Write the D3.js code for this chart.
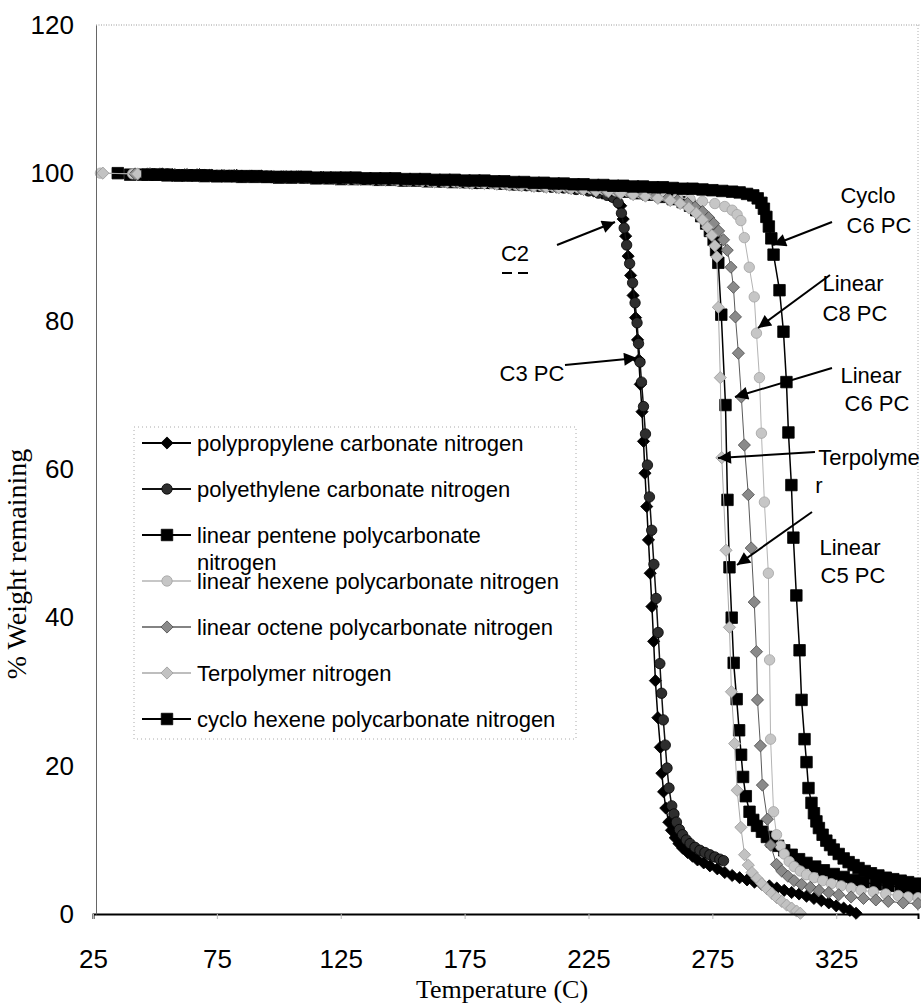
<!DOCTYPE html>
<html lang="en">
<head>
<meta charset="UTF-8">
<title>TGA weight loss</title>
<style>
  body{ margin:0; background:#fff; }
  svg{ display:block; font-family:"Liberation Sans", Arial, sans-serif; }
</style>
</head>
<body>
<svg id="chart" width="924" height="1003"></svg>

<script src="https://cdn.jsdelivr.net/npm/d3@7"></script>
<script>

// [temperature C, % weight remaining]
const ppcData = [[48,99.9],[53,99.9],[58,99.8],[63,99.8],[68,99.8],[73,99.7],[78,99.7],[83,99.7],[88,99.6],[93,99.6],[98,99.5],[103,99.5],[108,99.5],[113,99.4],[118,99.4],[123,99.3],[128,99.3],[133,99.2],[138,99.2],[143,99.1],[148,99.1],[153,99.0],[158,99.0],[163,98.9],[168,98.9],[173,98.8],[178,98.7],[183,98.7],[188,98.6],[193,98.5],[198,98.4],[203,98.3],[208,98.2],[213,98.1],[218,98.0],[223,97.8],[227,97.6],[230.5,97.3],[233.5,97.0],[236,96.6],[238,95.6],[239,93.8],[240,91.5],[241,88.8],[242,86.2],[243,83.5],[244,80.5],[244.8,77.5],[245.3,74.8],[245.9,71.5],[246.6,67.8],[247.2,63.8],[247.8,59.5],[248.5,55],[249.2,50.5],[249.9,46],[250.6,41.5],[251.3,36.8],[252,31.5],[253,26.5],[254,22.5],[254.6,19],[255.3,16.5],[256.2,14.3],[257.4,12.4],[258.5,11.3],[260,10.3],[261.5,9.5],[263,8.9],[265,8.3],[267,7.8],[269,7.3],[271.5,6.9],[274,6.5],[277,6.1],[280,5.6],[283,5.2],[286,4.9],[289,4.6],[292,4.3],[295,4.0],[298,3.8],[301,3.5],[304,3.2],[307,2.9],[310,2.7],[313,2.4],[316,2.1],[319,1.8],[322,1.5],[325,1.1],[328,0.8],[330.5,0.5],[333,0.1]];

const pecData = [[50,99.9],[55,99.9],[60,99.8],[65,99.8],[70,99.8],[75,99.7],[80,99.7],[85,99.6],[90,99.6],[95,99.6],[100,99.5],[105,99.5],[110,99.4],[115,99.4],[120,99.3],[125,99.3],[130,99.2],[135,99.2],[140,99.1],[145,99.1],[150,99.0],[155,99.0],[160,98.9],[165,98.8],[170,98.8],[175,98.7],[180,98.6],[185,98.6],[190,98.5],[195,98.4],[200,98.3],[205,98.2],[210,98.1],[215,98.0],[220,97.8],[225,97.6],[229,97.3],[232.5,97.0],[235,96.7],[237,96.0],[238.3,94.6],[239.4,92.6],[240.4,90.3],[241.6,87.8],[242.8,85.2],[243.8,82.5],[244.6,79.8],[245.2,77.0],[245.8,74.5],[246.4,71.8],[247.2,68.5],[248,64.8],[248.8,60.6],[249.6,56.3],[250.5,51.8],[251.4,47.2],[252.3,42.6],[253.1,38.0],[253.8,33.8],[254.5,29.8],[255.2,26.2],[256,22.8],[256.7,19.7],[257.5,17.0],[258.6,14.6],[259.5,13.5],[260.5,12.4],[261.7,11.4],[263,10.7],[264.5,10.0],[266,9.5],[268,9.0],[270,8.6],[272,8.3],[274,8.0],[276,7.7],[278,7.4],[279.5,7.2]];

const pentData = [[35,100],[40,99.8],[45,99.8],[50,99.8],[55,99.7],[60,99.7],[65,99.7],[70,99.6],[75,99.6],[80,99.6],[85,99.5],[90,99.5],[95,99.5],[100,99.4],[105,99.4],[110,99.4],[115,99.3],[120,99.3],[125,99.2],[130,99.2],[135,99.2],[140,99.1],[145,99.1],[150,99.0],[155,99.0],[160,98.9],[165,98.9],[170,98.8],[175,98.8],[180,98.7],[185,98.7],[190,98.6],[195,98.5],[200,98.5],[205,98.4],[210,98.3],[215,98.2],[220,98.1],[225,98.0],[230,97.9],[235,97.7],[240,97.5],[245,97.3],[250,97.1],[255,96.8],[259,96.5],[263,96.1],[266,95.6],[268.5,95.0],[270.5,94.2],[272.5,93.2],[274,92.2],[275.5,91.0],[276.5,89.6],[277.4,87.9],[278.6,80.9],[280.3,68.7],[281.1,55.9],[281.9,46.8],[282.8,40.0],[283.6,33.9],[284.8,29.0],[285.8,24.8],[286.6,21.5],[287.4,18.5],[288.5,15.9],[290,13.8],[291.5,12.7],[293,11.9],[295,11.1],[297,10.4],[299,9.8],[301.5,9.2],[304,8.6],[307,8.0],[310,7.4],[313,6.9],[316.5,6.4],[320,5.9],[324,5.4],[328,5.0],[332,4.6],[336,4.3],[341,4.0],[346,3.8],[351,3.6],[355,3.4],[358,3.3]];

const hexData = [[28,100],[41,99.9],[46,99.9],[51,99.9],[56,99.8],[61,99.8],[66,99.8],[71,99.7],[76,99.7],[81,99.7],[86,99.6],[91,99.6],[96,99.5],[101,99.5],[106,99.5],[111,99.4],[116,99.4],[121,99.3],[126,99.3],[131,99.2],[136,99.2],[141,99.1],[146,99.1],[151,99.0],[156,99.0],[161,98.9],[166,98.9],[171,98.8],[176,98.7],[181,98.7],[186,98.6],[191,98.5],[196,98.4],[201,98.4],[206,98.3],[211,98.2],[216,98.1],[221,98.0],[226,97.9],[231,97.8],[236,97.6],[241,97.5],[246,97.3],[251,97.1],[256,96.9],[261,96.7],[266,96.5],[271,96.2],[276,95.9],[280,95.5],[283,95.0],[285,94.4],[286.5,93.6],[287.9,91.3],[289.9,87.3],[291.9,83.3],[292.8,78.4],[294,72.4],[294.8,64.9],[296,55.6],[297.6,46.0],[298.1,34.3],[298.5,23.6],[299.7,13.8],[300.9,10.7],[302.5,9.2],[304,8.1],[306,7.1],[308,6.4],[310.5,5.8],[313,5.3],[316,4.9],[319.5,4.5],[323,4.1],[327,3.8],[331,3.5],[335,3.2],[340,3.0],[345,2.7],[350,2.5],[354,2.3],[358,2.2]];

const octData = [[42,99.9],[47,99.9],[52,99.9],[57,99.8],[62,99.8],[67,99.8],[72,99.7],[77,99.7],[82,99.7],[87,99.6],[92,99.6],[97,99.5],[102,99.5],[107,99.5],[112,99.4],[117,99.4],[122,99.3],[127,99.3],[132,99.2],[137,99.2],[142,99.1],[147,99.1],[152,99.0],[157,99.0],[162,98.9],[167,98.9],[172,98.8],[177,98.7],[182,98.7],[187,98.6],[192,98.5],[197,98.4],[202,98.3],[207,98.2],[212,98.1],[217,98.0],[222,97.9],[227,97.8],[232,97.6],[237,97.5],[242,97.3],[247,97.1],[252,96.9],[257,96.6],[261,96.3],[265,95.9],[268,95.4],[271,94.8],[273.5,94.0],[275.5,93.2],[277.5,92.2],[279.5,91.0],[281,89.6],[282.5,87.3],[283.5,84.6],[284.3,80.6],[285.5,75.7],[286.7,69.8],[287.9,63.3],[289.5,56.6],[290.7,49.4],[291.9,42.1],[292.8,35.4],[293.2,28.9],[294.4,22.7],[295.2,17.4],[297.2,12.8],[298.5,9.3],[300.9,6.7],[303,5.8],[305.5,5.1],[308,4.5],[311,4.0],[314.5,3.6],[318,3.2],[322,2.9],[326,2.6],[331,2.3],[336,2.1],[341,1.9],[346,1.7],[352,1.5],[358,1.4]];

const terpData = [[29,100],[43,99.9],[48,99.9],[53,99.8],[58,99.8],[63,99.8],[68,99.7],[73,99.7],[78,99.7],[83,99.6],[88,99.6],[93,99.5],[98,99.5],[103,99.5],[108,99.4],[113,99.4],[118,99.3],[123,99.3],[128,99.2],[133,99.2],[138,99.1],[143,99.1],[148,99.0],[153,99.0],[158,98.9],[163,98.8],[168,98.8],[173,98.7],[178,98.6],[183,98.6],[188,98.5],[193,98.4],[198,98.3],[203,98.2],[208,98.1],[213,98.0],[218,97.9],[223,97.8],[228,97.6],[233,97.5],[238,97.3],[243,97.1],[248,96.9],[253,96.6],[258,96.3],[262,95.9],[265.5,95.3],[268.5,94.6],[271,93.7],[273,92.7],[274.8,91.6],[276,90.2],[276.8,88.7],[277.4,81.9],[278.2,72.4],[278.8,61.6],[280.5,49.1],[281.9,38.7],[282.7,30.0],[284,23.0],[285,16.7],[286.5,11.7],[288,8.0],[289.5,6.6],[291,5.6],[293,4.8],[295,4.1],[297,3.4],[299,2.8],[301,2.2],[303,1.7],[305,1.2],[307,0.8],[309,0.4],[310.5,0.1]];

const cycloData = [[47,99.8],[51,99.8],[55,99.8],[59,99.7],[63,99.7],[67,99.7],[71,99.7],[75,99.6],[79,99.6],[83,99.6],[87,99.6],[91,99.6],[95,99.5],[99,99.5],[103,99.5],[107,99.5],[111,99.5],[115,99.4],[119,99.4],[123,99.4],[127,99.4],[131,99.4],[135,99.3],[139,99.3],[143,99.3],[147,99.3],[151,99.2],[155,99.2],[159,99.2],[163,99.1],[167,99.1],[171,99.1],[175,99.0],[179,99.0],[183,99.0],[187,98.9],[191,98.9],[195,98.8],[199,98.8],[203,98.7],[207,98.7],[211,98.6],[215,98.6],[219,98.5],[223,98.5],[227,98.4],[231,98.4],[235,98.3],[239,98.3],[243,98.2],[247,98.2],[251,98.1],[255,98.1],[259,98.0],[263,97.9],[267,97.9],[271,97.8],[275,97.7],[279,97.6],[283,97.5],[286,97.4],[289,97.2],[291.5,97.0],[293.3,96.6],[294.8,96.0],[295.8,95.2],[296.8,94.1],[297.8,92.8],[298.8,91.2],[299.7,89.0],[302.1,84.2],[303.7,78.6],[304.9,71.8],[305.7,65.0],[306.9,57.9],[307.7,50.8],[308.9,43.0],[310.2,35.6],[311,28.9],[312.2,23.6],[313,20.5],[313.8,17.0],[315,15.0],[316,13.6],[317,12.5],[318,11.6],[319.5,10.7],[321,9.9],[322.5,9.3],[324,8.7],[326,8.1],[328,7.5],[330,7.0],[332,6.6],[334,6.2],[336.5,5.8],[339,5.5],[342,5.2],[345,4.9],[348,4.7],[351,4.5],[354,4.3],[357,4.1]];

const seriesNames = [
    'polypropylene carbonate nitrogen',
    'polyethylene carbonate nitrogen',
    'linear pentene polycarbonate nitrogen',
    'linear hexene polycarbonate nitrogen',
    'linear octene polycarbonate nitrogen',
    'Terpolymer nitrogen',
    'cyclo hexene polycarbonate nitrogen'
];
const seriesData = [ppcData, pecData, pentData, hexData, octData, terpData, cycloData];

const xTicks = [25, 75, 125, 175, 225, 275, 325];
const yTicks = [0, 20, 40, 60, 80, 100, 120];

// marker look per series (diamonds are rotated squares)
const styles = [
    {shape:'diamond', fill:'#000',    stroke:'#000',    line:'#000',    lw:1.5},
    {shape:'circle',  fill:'#2e2e2e', stroke:'#000',    line:'#111',    lw:1.5},
    {shape:'square',  fill:'#000',    stroke:'#000',    line:'#000',    lw:1.5},
    {shape:'circle',  fill:'#c6c6c6', stroke:'#a2a2a2', line:'#b4b4b4', lw:1},
    {shape:'diamond', fill:'#8a8a8a', stroke:'#4e4e4e', line:'#5a5a5a', lw:1},
    {shape:'diamond', fill:'#c2c2c2', stroke:'#9c9c9c', line:'#a8a8a8', lw:1},
    {shape:'square',  fill:'#000',    stroke:'#000',    line:'#000',    lw:1.5}
];

const svg = d3.select('#chart');
const x = d3.scaleLinear().domain([25, 358]).range([93, 918]);
const y = d3.scaleLinear().domain([0, 120]).range([914, 25]);

const symbolPath = shape => {
    if(shape === 'circle') return d3.symbol().type(d3.symbolCircle).size(85)();
    return d3.symbol().type(d3.symbolSquare).size(shape === 'square' ? 132 : 74)();
};
const symbolTransform = (shape, px, py) =>
    'translate(' + px + ',' + py + ')' + (shape === 'diamond' ? ' rotate(45)' : '');

// plot frame: dotted top / right, axes left / bottom
svg.append('line').attr('x1', 96).attr('x2', 920).attr('y1', 25).attr('y2', 25)
    .attr('stroke', '#9a9a9a').attr('stroke-width', 1).attr('stroke-dasharray', '1,1.5');
svg.append('line').attr('x1', 918).attr('x2', 918).attr('y1', 25).attr('y2', 914)
    .attr('stroke', '#b0b0b0').attr('stroke-width', 1).attr('stroke-dasharray', '1,2');

// clip for the series
svg.append('defs').append('clipPath').attr('id', 'plot-clip')
    .append('rect').attr('x', 93).attr('y', 20).attr('width', 828).attr('height', 910);

// arrow head
svg.select('defs').append('marker')
    .attr('id', 'arrow')
    .attr('viewBox', '0 0 10 10')
    .attr('refX', 10).attr('refY', 5)
    .attr('markerWidth', 17).attr('markerHeight', 13)
    .attr('markerUnits', 'userSpaceOnUse')
    .attr('orient', 'auto')
    .append('path').attr('d', 'M0,0 L10,5 L0,10 z').attr('fill', '#000');

// series, drawn in order like the spreadsheet did
const plot = svg.append('g').attr('clip-path', 'url(#plot-clip)');
const lineGen = d3.line().x(d => x(d[0])).y(d => y(d[1]));

seriesData.forEach((data, i) => {
    const st = styles[i];
    const g = plot.append('g').classed('series', true);
    g.append('path')
        .attr('d', lineGen(data))
        .attr('fill', 'none')
        .attr('stroke', st.line)
        .attr('stroke-width', st.lw);
    g.selectAll('path.pt')
        .data(data)
        .enter()
        .append('path')
        .classed('pt', true)
        .attr('d', symbolPath(st.shape))
        .attr('transform', d => symbolTransform(st.shape, x(d[0]), y(d[1])))
        .attr('fill', st.fill)
        .attr('stroke', st.stroke)
        .attr('stroke-width', 0.8);
});

// axes
const xAxis = svg.append('g')
    .attr('transform', 'translate(0,914)')
    .call(d3.axisBottom(x).tickValues(xTicks).tickSize(5).tickPadding(31).tickFormat(d3.format('d')));
xAxis.select('.domain').attr('stroke', '#000').attr('stroke-width', 2);
xAxis.selectAll('.tick line').attr('stroke', '#bbb');
xAxis.selectAll('text').attr('font-size', 26).attr('fill', '#000')
    .attr('font-family', '"Liberation Sans", Arial, sans-serif');

const yAxis = svg.append('g')
    .attr('transform', 'translate(96,0)')
    .call(d3.axisLeft(y).tickValues(yTicks).tickSize(0).tickPadding(22).tickFormat(d3.format('d')));
yAxis.select('.domain').attr('stroke', '#666').attr('stroke-width', 1);
yAxis.selectAll('text').attr('font-size', 26).attr('fill', '#000')
    .attr('font-family', '"Liberation Sans", Arial, sans-serif');

// axis titles
svg.append('text')
    .attr('x', 502).attr('y', 998)
    .attr('text-anchor', 'middle')
    .attr('font-family', '"Liberation Serif", "Times New Roman", serif')
    .attr('font-size', 26)
    .text('Temperature (C)');

svg.append('text')
    .attr('transform', 'translate(26,564) rotate(-90)')
    .attr('text-anchor', 'middle')
    .attr('font-family', '"Liberation Serif", "Times New Roman", serif')
    .attr('font-size', 28)
    .text('% Weight remaining');

// legend
const legend = svg.append('g').classed('legend', true);
legend.append('rect')
    .attr('x', 134).attr('y', 427).attr('width', 442).attr('height', 312)
    .attr('fill', '#fff')
    .attr('stroke', '#aaa').attr('stroke-width', 1).attr('stroke-dasharray', '1,3');

seriesNames.forEach((name, i) => {
    const st = styles[i];
    const ly = 443 + i * 46;
    const row = legend.append('g');
    row.append('line')
        .attr('x1', 142).attr('x2', 191).attr('y1', ly).attr('y2', ly)
        .attr('stroke', st.line).attr('stroke-width', st.lw + 0.5);
    row.append('path')
        .attr('d', symbolPath(st.shape))
        .attr('transform', symbolTransform(st.shape, 167, ly))
        .attr('fill', st.fill).attr('stroke', st.stroke).attr('stroke-width', 0.8);
    const label = row.append('text')
        .attr('x', 197).attr('y', ly)
        .attr('dy', '0.35em')
        .attr('font-size', 22);
    if(i === 2){
        label.append('tspan').text('linear pentene polycarbonate');
        label.append('tspan').attr('x', 197).attr('dy', 27).text('nitrogen');
    }else{
        label.text(name);
    }
});

// call-outs with arrows
const notes = [
    {lines:['Cyclo', 'C6 PC'], cx:[868, 879], cy:[195, 225], from:[832, 222], to:[773, 245]},
    {lines:['Linear', 'C8 PC'], cx:[853, 855], cy:[283, 313], from:[830, 275], to:[758, 328]},
    {lines:['Linear', 'C6 PC'], cx:[871, 877], cy:[375, 403], from:[832, 368], to:[735, 397]},
    {lines:['Terpolyme', 'r'], cx:[869, 819], cy:[457, 485], from:[815, 452], to:[718, 458]},
    {lines:['Linear', 'C5 PC'], cx:[850, 853], cy:[547, 575], from:[812, 512], to:[737, 565]},
    {lines:['C2'], cx:[515], cy:[253], from:[557, 245], to:[615, 222]},
    {lines:['C3 PC'], cx:[532], cy:[373], from:[565, 365], to:[637, 358]}
];

const noteG = svg.append('g').classed('notes', true);
notes.forEach(n => {
    noteG.append('line')
        .attr('x1', n.from[0]).attr('y1', n.from[1])
        .attr('x2', n.to[0]).attr('y2', n.to[1])
        .attr('stroke', '#000').attr('stroke-width', 2)
        .attr('marker-end', 'url(#arrow)');
    n.lines.forEach((t, k) => {
        noteG.append('text')
            .attr('x', n.cx[k]).attr('y', n.cy[k])
            .attr('dy', '0.35em')
            .attr('text-anchor', 'middle')
            .attr('font-size', 22)
            .text(t);
    });
});

// the cut-off second line under "C2" shows only as two dashes
noteG.append('line')
    .attr('x1', 502).attr('x2', 528).attr('y1', 273).attr('y2', 273)
    .attr('stroke', '#000').attr('stroke-width', 2)
    .attr('stroke-dasharray', '10,6');

</script>
</body>
</html>
